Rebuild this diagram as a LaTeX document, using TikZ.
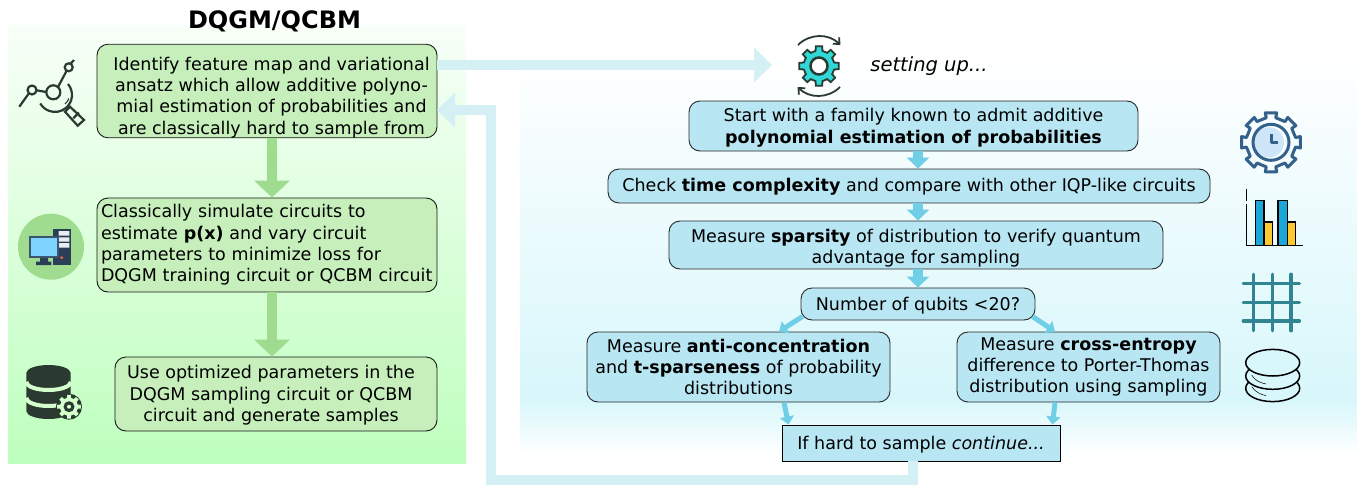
\documentclass[tikz,border=0pt]{standalone}
\usepackage{fontspec}
\setmainfont{DejaVu Sans}
\usetikzlibrary{arrows.meta}

\definecolor{greenbox}{HTML}{C6EFBC}
\definecolor{bluebox}{HTML}{B9E6F3}
\definecolor{greenarrow}{HTML}{A0DC90}
\definecolor{bluearrow}{HTML}{70CFE6}
\definecolor{palearrow}{HTML}{D4F0F5}
\definecolor{icondark}{HTML}{2B3A30}
\definecolor{gearblue}{HTML}{34608C}
\definecolor{gearpale}{HTML}{CFE5F8}
\definecolor{gridteal}{HTML}{318592}
\definecolor{gearteal}{HTML}{30D8D8}
\definecolor{greentop}{HTML}{F8FFF8}
\definecolor{greenend}{HTML}{BEFFBE}
\definecolor{bluepanel}{HTML}{D8F7FB}
\definecolor{greenpale}{HTML}{D4FFCC}
\definecolor{pcnavy}{HTML}{2A3F55}
\definecolor{pcframe}{HTML}{3A5570}
\definecolor{pcscreen}{HTML}{7FD4FF}
\definecolor{pcbay}{HTML}{E8EEF0}
\definecolor{pcred}{HTML}{F05A40}
\definecolor{barblue}{HTML}{1BA8D8}
\definecolor{baryellow}{HTML}{FFC830}

\tikzset{
    lbox/.style={draw=black!90, line width=0.9pt, fill=greenbox, rounded corners=11pt, inner sep=0pt, align=center},
    rbox/.style={draw=black!85, line width=0.9pt, fill=bluebox, rounded corners=11pt, inner sep=0pt, align=center},
    greenflow/.style={draw=greenarrow, line width=10pt, -{Triangle[width=35pt,length=17pt]}},
    blueflow/.style={draw=bluearrow, line width=10pt, -{Triangle[width=22pt,length=11pt]}},
    blueslant/.style={draw=bluearrow, line width=5pt, -{Triangle[width=14pt,length=8pt]}},
    paleflow/.style={draw=palearrow, line width=10pt, -{Triangle[width=34pt,length=18pt]}},
}
\newcommand{\nudge}[1]{\hspace*{#1}}
\newcommand{\tall}[1]{\rule{0pt}{#1}}

\begin{document}
\begin{tikzpicture}[x=1pt, y=-1pt, font=\fontsize{17.5}{21.3}\selectfont]

    \useasboundingbox (0,0) rectangle (1357,485);

    % Background panels
    \shade[top color=greentop, bottom color=greenend] (8,25) rectangle (466,463);
    \shade[top color=white, bottom color=bluepanel] (520,55) rectangle (1357,400);
    \shade[top color=bluepanel, bottom color=white] (520,400) rectangle (1357,455);

    % Title
    \node[font=\fontsize{24}{28}\selectfont\bfseries] (title) at (274.5,21) {DQGM/QCBM};

    % Left column
    \node[lbox, minimum width=340pt, minimum height=92pt] (b1) at (267,91) {%
        \tall{26pt}\nudge{9pt}Identify feature map and variational\\
        \nudge{9pt}ansatz which allow additive polyno-\\
        \nudge{9pt}mial estimation of probabilities and\\
        \nudge{9pt}are classically hard to sample from};
    \node[lbox, minimum width=340pt, minimum height=94pt, text width=332pt, align=left] (b2) at (267,245) {%
        Classically simulate circuits to\\
        estimate \textbf{p(x)} and vary circuit\\
        parameters to minimize loss for\\
        DQGM training circuit or QCBM circuit};
    \node[lbox, minimum width=322pt, minimum height=74pt] (b3) at (276,394) {%
        \tall{16pt}\nudge{-10pt}Use optimized parameters in the\\
        \nudge{-10pt}DQGM sampling circuit or QCBM\\
        \nudge{-10pt}circuit and generate samples};

    \draw[greenflow] ([xshift=5pt]b1.south) -- ([xshift=5pt]b2.north);
    \draw[greenflow] ([xshift=5pt]b2.south) -- ([xshift=-4pt]b3.north);

    % Right column
    \node[rbox, minimum width=449pt, minimum height=50pt] (r1) at (913.5,126) {%
        \tall{17pt}Start with a family known to admit additive\\ \textbf{polynomial estimation of probabilities}};
    \node[rbox, minimum width=602pt, minimum height=34pt] (r2) at (909,186) {%
        \tall{15pt}Check \textbf{time complexity} and compare with other IQP-like circuits};
    \node[rbox, minimum width=494pt, minimum height=48pt] (r3) at (916,245) {%
        \tall{19pt}Measure \textbf{sparsity} of distribution to verify quantum\\ advantage for sampling};
    \node[rbox, minimum width=234pt, minimum height=32pt] (r4) at (918,304) {\tall{17pt}Number of qubits <20?};
    \node[rbox, minimum width=303pt, minimum height=70pt] (r5) at (738.5,367) {%
        Measure \textbf{anti-concentration}\\ and \textbf{t-sparseness} of probability\\ distributions};
    \node[rbox, minimum width=263pt, minimum height=70pt] (r6) at (1088.5,367) {%
        Measure \textbf{cross-entropy}\\ difference to Porter-Thomas\\ distribution using sampling};
    \node[draw=black, line width=0.9pt, fill=bluebox, minimum width=278pt, minimum height=36pt, inner sep=0pt] (r7) at (921,443) {\tall{17pt}If hard to sample \textit{continue...}};

    \draw[blueflow] ([xshift=4.5pt]r1.south) -- ([xshift=9pt]r2.north);
    \draw[blueflow] ([xshift=9pt]r2.south) -- ([xshift=2pt]r3.north);
    \draw[blueflow] ([xshift=2pt]r3.south) -- (r4.north);
    \draw[blueslant] ([xshift=2pt,yshift=4pt]r4.south west) -- ([xshift=40.5pt]r5.north);
    \draw[blueslant] ([xshift=-3pt,yshift=4pt]r4.south east) -- ([xshift=-33.5pt]r6.north);
    \draw[blueslant] ([xshift=45.5pt]r5.south) -- ([xshift=7pt]r7.north west);
    \draw[blueslant] ([xshift=-33.5pt]r6.south) -- ([xshift=-8pt]r7.north east);

    % Setting up and the way back
    \node[font=\fontsize{19.5}{23}\selectfont\itshape] (setup) at (929,66) {setting up...};
    \coordinate (setupin) at (772,65);
    \coordinate (retcorner) at (491,480);
    \coordinate (retin) at (437,110);
    \draw[paleflow] (b1.east |- setupin) -- (setupin);
    \draw[paleflow] ([xshift=-8pt]r7.south) |- (retcorner) |- (retin);

    % Turning gear
    \begin{scope}[shift={(819,66)}]
        \draw[fill=gearteal, draw=icondark, line width=1.8pt]
            (-13:15.5) \foreach \a in {0,45,...,315} {
                -- ({\a-13}:15.5) -- ({\a-9}:20) -- ({\a+9}:20) -- ({\a+13}:15.5) } -- cycle;
        \draw[fill=white, draw=icondark, line width=2.5pt] (0,0) circle (8.5);
        \draw[icondark, line width=1.8pt, -{Straight Barb[length=5pt,width=9pt]}] (-21,-21) arc (225:315:30);
        \draw[icondark, line width=1.8pt, -{Straight Barb[length=5pt,width=9pt]}] (21,21) arc (45:135:30);
    \end{scope}

    % Molecule under the lens
    \begin{scope}[draw=icondark, line width=2.2pt]
        \draw (53.3,92.3) circle (7) (32,90) circle (4.5) (68.7,67.3) circle (4);
        \draw (19.3,106.7) -- (28.8,93.5) (36.5,90.3) -- (46.3,92) (58,87) -- (66.5,71) (70.5,63.8) -- (74,60);
        \draw (68,84) arc (-40:150:17);
        \draw[line width=1.1pt] (65,104) arc (50:20:13);
        \draw (65,111.7) -- (70,106.7) -- (84,120) -- (77.7,125.7) -- cycle;
        \draw (73.3,118.3) -- (78.8,112.5);
    \end{scope}

    % Computer
    \fill[greenarrow] (51,246.7) circle (33);
    \fill[pcnavy] (52.7,229) rectangle (70.7,265);
    \fill[pcbay] (58.7,231) rectangle (69.3,235.7) (58.7,237.3) rectangle (69.3,241.7) (58.7,243) rectangle (69.3,247.7);
    \fill[pcred] (61.7,257.7) circle (1.7);
    \fill[pcframe] (28.7,236) rectangle (58.7,258.3);
    \fill[pcscreen] (30.7,237.7) rectangle (57.3,256.3);
    \fill[pcnavy] (40,258) rectangle (48,262) (36,261.7) rectangle (51.3,265);

    % Database with gear
    \fill[icondark] (26.3,373) arc [start angle=180, end angle=360, x radius=22.2, y radius=8] -- (70.7,411) arc [start angle=0, end angle=180, x radius=22.2, y radius=8] -- cycle;
    \draw[greenpale, line width=4pt] (26.3,382) arc [start angle=180, end angle=0, x radius=22.2, y radius=8];
    \draw[greenpale, line width=4pt] (26.3,398) arc [start angle=180, end angle=0, x radius=22.2, y radius=8];
    \begin{scope}[shift={(69,406.7)}]
        \fill[icondark] (0,0) circle (13);
        \fill[greenpale] (-13:9) \foreach \a in {0,45,...,315} {
                -- ({\a-13}:9) -- ({\a-9}:12) -- ({\a+9}:12) -- ({\a+13}:9) } -- cycle;
        \fill[icondark] (0,0) circle (5.5);
        \fill[greenpale] (0,0) circle (2);
    \end{scope}

    % Clock gear
    \begin{scope}[shift={(1271,142.3)}, draw=gearblue, line width=3pt, line join=round]
        \draw (-11:25) \foreach \a in {0,45,...,315} {
                -- ({\a-11}:25) -- ({\a-11}:30) -- ({\a+11}:30) -- ({\a+11}:25) } -- cycle;
        \fill[gearpale] (-2,0) circle (15);
        \draw (0,0) circle (18);
        \draw (0,-8) -- (0,0) -- (7,0);
    \end{scope}

    % Bar chart
    \fill[barblue] (1255.3,200.7) rectangle (1264,245.7) (1278,200.7) rectangle (1287.3,245.7);
    \fill[baryellow] (1264,222) rectangle (1272.3,245.7) (1287.3,222) rectangle (1295.7,245.7);
    \draw[line width=1.3pt] (1255.3,245.7) |- (1264,200.7) -- (1264,245.7) (1278,245.7) |- (1287.3,200.7) -- (1287.3,245.7)
        (1264,222) -| (1272.3,245.7) (1287.3,222) -| (1295.7,245.7);
    \draw[line width=1.5pt] (1246.7,189) -- (1246.7,201) (1246.7,204) -- (1246.7,245.7) -- (1303,245.7);

    % Grid
    \draw[gridteal, line width=3.5pt, line cap=round]
        (1253.7,274.3) -- (1253.7,330.7) (1272.3,274.3) -- (1272.3,330.7) (1291,274.3) -- (1291,330.7)
        (1243.3,283.7) -- (1299.3,283.7) (1243.3,302.3) -- (1299.3,302.3) (1243.3,321) -- (1299.3,321);

    % Coins
    \begin{scope}[fill=bluepanel, line width=1.5pt]
        \filldraw (1272.7,388.3) ellipse (27 and 13.3);
        \filldraw (1272.7,376) ellipse (27 and 13.3);
        \filldraw (1272.7,362.7) ellipse (27 and 13.3);
        \draw[line width=0.5pt] (1251.7,375) .. controls (1255,381) and (1261,383) .. (1266,384);
        \draw[line width=0.5pt] (1251.7,386.7) .. controls (1255,392) and (1261,394.5) .. (1266,395.7);
    \end{scope}

\end{tikzpicture}
\end{document}
